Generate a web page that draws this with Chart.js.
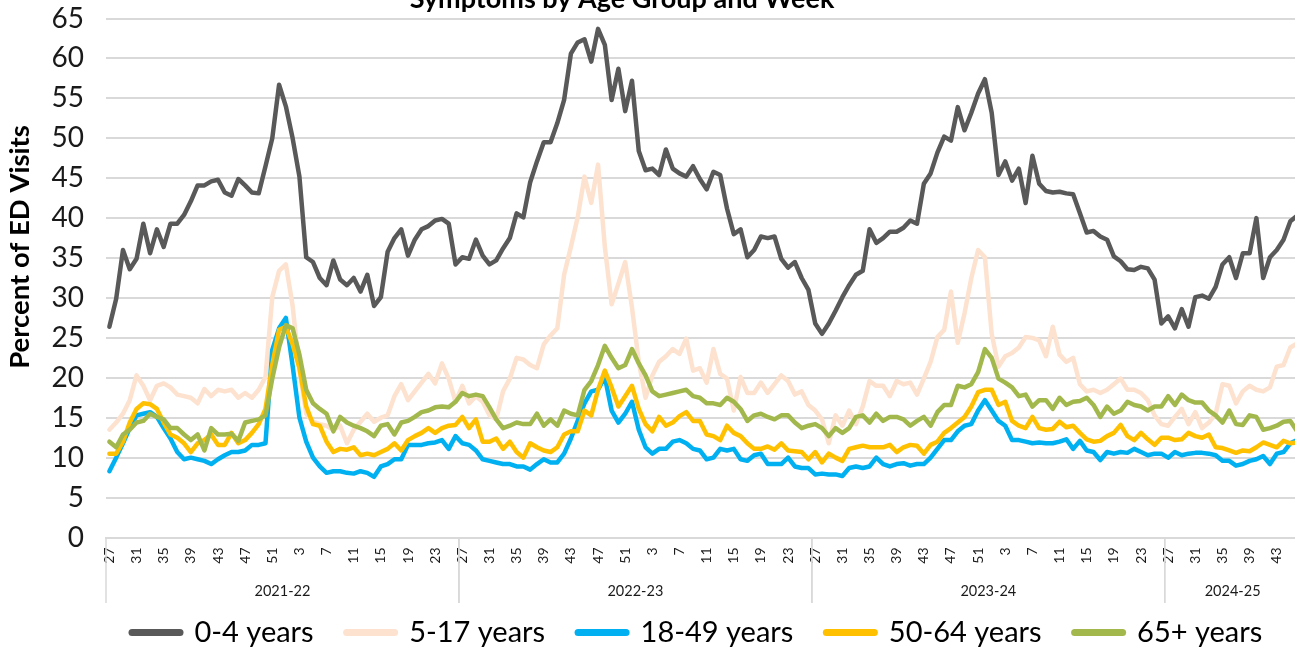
<!DOCTYPE html>
<html>
<head>
<meta charset="utf-8">
<script src="https://cdn.jsdelivr.net/npm/chart.js@4.4.1/dist/chart.umd.min.js"></script>
<style>
  html, body { margin: 0; padding: 0; background: #fff; overflow: hidden; }
  #wrap { position: relative; width: 1295px; height: 648px; overflow: hidden; }
  #chart { position: absolute; left: 0; top: 0; }
</style>
</head>
<body>
<div id="wrap"><canvas id="chart" width="1308" height="657"></canvas></div>
<script>
const chartTitle = 'Symptoms by Age Group and Week';
const yTitle = 'Percent of ED Visits';
const yMin = 0, yMax = 65, yStep = 5;

const seasons = ['2021-22', '2022-23', '2023-24', '2024-25'];
const weeks2122 = [27,28,29,30,31,32,33,34,35,36,37,38,39,40,41,42,43,44,45,46,47,48,49,50,51,52,1,2,3,4,5,6,7,8,9,10,11,12,13,14,15,16,17,18,19,20,21,22,23,24,25,26];
const weeks2223 = [27,28,29,30,31,32,33,34,35,36,37,38,39,40,41,42,43,44,45,46,47,48,49,50,51,52,1,2,3,4,5,6,7,8,9,10,11,12,13,14,15,16,17,18,19,20,21,22,23,24,25,26];
const weeks2324 = [27,28,29,30,31,32,33,34,35,36,37,38,39,40,41,42,43,44,45,46,47,48,49,50,51,52,1,2,3,4,5,6,7,8,9,10,11,12,13,14,15,16,17,18,19,20,21,22,23,24,25,26];
const weeks2425 = [27,28,29,30,31,32,33,34,35,36,37,38,39,40,41,42,43,44,45,46];
const seasonWeeks = [weeks2122, weeks2223, weeks2324, weeks2425];
const weekLabels = [...weeks2122, ...weeks2223, ...weeks2324, ...weeks2425];

const age0to4 = [
  26.4, 29.9, 36.0, 33.6, 34.9, 39.3, 35.6, 38.6, 36.4, 39.3,
  39.3, 40.4, 42.1, 44.1, 44.1, 44.6, 44.8, 43.2, 42.8, 44.9,
  44.1, 43.2, 43.1, 46.5, 50.0, 56.7, 54.0, 50.0, 45.2, 35.1,
  34.5, 32.5, 31.6, 34.7, 32.3, 31.6, 32.5, 30.8, 32.9, 29.0,
  30.1, 35.8, 37.5, 38.6, 35.3, 37.3, 38.6, 39.0, 39.7, 39.9,
  39.3, 34.2, 35.1, 34.9, 37.3, 35.3, 34.2, 34.7, 36.2, 37.5,
  40.6, 40.1, 44.5, 47.1, 49.5, 49.5, 51.9, 54.8, 60.6, 62.0,
  62.4, 59.6, 63.7, 61.7, 54.8, 58.7, 53.4, 57.2, 48.4, 46.0,
  46.2, 45.4, 48.6, 46.2, 45.6, 45.2, 46.5, 44.9, 43.6, 45.8,
  45.4, 41.2, 38.0, 38.6, 35.1, 36.0, 37.7, 37.5, 37.7, 34.9,
  33.8, 34.5, 32.5, 31.0, 26.8, 25.5, 26.8, 28.4, 30.1, 31.6,
  32.9, 33.4, 38.6, 36.9, 37.5, 38.3, 38.3, 38.8, 39.7, 39.3,
  44.3, 45.6, 48.2, 50.2, 49.7, 53.9, 51.0, 53.2, 55.6, 57.4,
  53.2, 45.4, 47.1, 44.7, 46.2, 41.9, 47.8, 44.3, 43.4, 43.2,
  43.3, 43.1, 43.0, 40.6, 38.2, 38.4, 37.7, 37.3, 35.2, 34.6,
  33.6, 33.5, 33.9, 33.7, 32.3, 26.8, 27.7, 26.2, 28.6, 26.4,
  30.1, 30.3, 29.9, 31.4, 34.2, 35.1, 32.5, 35.6, 35.6, 40.0,
  32.5, 35.1, 36.0, 37.3, 39.6, 40.3
];
const age5to17 = [
  13.5, 14.4, 15.5, 17.2, 20.3, 19.0, 17.2, 19.0, 19.3, 18.8,
  17.9, 17.7, 17.5, 16.8, 18.6, 17.7, 18.5, 18.3, 18.5, 17.5,
  18.1, 17.5, 18.5, 20.1, 30.1, 33.4, 34.2, 29.0, 21.0, 15.5,
  14.5, 14.2, 14.0, 13.5, 14.0, 11.8, 13.5, 14.5, 15.5, 14.5,
  15.0, 15.3, 17.7, 19.2, 17.2, 18.3, 19.4, 20.5, 19.3, 21.8,
  19.9, 17.0, 19.0, 16.8, 17.7, 17.0, 15.3, 14.8, 18.3, 19.9,
  22.5, 22.3, 21.6, 21.2, 24.2, 25.3, 26.2, 32.9, 36.4, 40.1,
  45.2, 41.9, 46.7, 36.4, 29.2, 31.8, 34.5, 28.8, 22.0, 17.5,
  20.3, 22.0, 22.7, 23.6, 23.0, 24.9, 20.9, 21.2, 19.4, 23.6,
  20.5, 19.9, 15.9, 20.1, 18.1, 18.1, 19.4, 18.1, 19.2, 20.3,
  19.6, 17.9, 18.3, 16.6, 15.9, 14.8, 11.8, 15.3, 14.0, 15.9,
  14.2, 16.4, 19.6, 19.0, 19.0, 17.7, 19.6, 19.2, 19.4, 17.9,
  19.9, 22.0, 25.1, 26.0, 30.8, 24.4, 28.1, 32.5, 36.0, 35.1,
  25.5, 21.4, 22.7, 23.1, 23.8, 25.1, 25.0, 24.7, 22.7, 26.4,
  22.9, 22.0, 22.5, 19.2, 18.3, 18.5, 18.1, 18.5, 19.2, 19.9,
  18.5, 18.5, 18.1, 17.2, 15.3, 14.2, 14.0, 15.1, 16.1, 14.2,
  15.7, 13.7, 14.4, 15.5, 19.2, 19.0, 16.8, 18.3, 19.0, 18.5,
  18.3, 18.8, 21.4, 21.6, 23.8, 24.3
];
const age18to49 = [
  8.3, 10.0, 11.8, 13.7, 15.3, 15.5, 15.7, 15.1, 13.7, 12.4,
  10.7, 9.8, 10.0, 9.8, 9.6, 9.2, 9.8, 10.3, 10.7, 10.7,
  10.9, 11.6, 11.6, 11.8, 23.5, 26.2, 27.5, 21.5, 15.0, 12.0,
  10.0, 8.9, 8.1, 8.3, 8.3, 8.1, 8.0, 8.3, 8.1, 7.6,
  8.9, 9.2, 9.8, 9.8, 11.6, 11.6, 11.6, 11.8, 11.9, 12.2,
  11.1, 12.7, 11.8, 11.6, 10.9, 9.8, 9.6, 9.4, 9.2, 9.2,
  8.9, 8.9, 8.5, 9.2, 9.8, 9.4, 9.4, 10.5, 12.4, 14.6,
  16.8, 18.3, 18.5, 20.1, 15.9, 14.4, 15.5, 17.0, 13.5, 11.3,
  10.5, 11.1, 11.1, 12.0, 12.2, 11.8, 11.1, 10.9, 9.8, 10.0,
  11.1, 10.9, 11.1, 9.8, 9.6, 10.3, 10.5, 9.2, 9.2, 9.2,
  10.0, 8.9, 8.7, 8.7, 7.9, 8.0, 7.9, 7.9, 7.7, 8.7,
  8.9, 8.7, 8.9, 10.0, 9.2, 8.9, 9.2, 9.3, 9.0, 9.2,
  9.2, 10.0, 11.1, 12.2, 12.2, 13.3, 14.0, 14.2, 15.9, 17.2,
  15.9, 14.6, 14.0, 12.2, 12.2, 12.0, 11.8, 11.9, 11.8, 11.8,
  12.0, 12.3, 11.1, 12.1, 10.9, 10.7, 9.7, 10.7, 10.5, 10.7,
  10.6, 11.1, 10.7, 10.3, 10.5, 10.5, 10.0, 10.7, 10.3, 10.5,
  10.6, 10.6, 10.5, 10.3, 9.6, 9.6, 9.0, 9.2, 9.6, 9.8,
  10.2, 9.2, 10.5, 10.7, 11.8, 12.2
];
const age50to64 = [
  10.5, 10.5, 12.0, 14.4, 16.1, 16.8, 16.7, 16.1, 14.4, 12.9,
  12.5, 11.8, 10.7, 11.8, 12.2, 12.9, 11.6, 11.6, 13.1, 11.8,
  12.2, 13.1, 14.2, 16.1, 21.6, 26.0, 26.4, 24.2, 21.2, 16.4,
  14.2, 14.0, 12.0, 10.7, 11.1, 11.0, 11.3, 10.3, 10.5, 10.3,
  10.7, 11.1, 11.8, 10.9, 12.2, 12.7, 13.1, 13.7, 13.1, 13.7,
  14.0, 14.1, 15.1, 13.7, 14.8, 12.0, 12.0, 12.4, 11.1, 12.0,
  10.7, 10.0, 11.8, 11.3, 10.9, 10.7, 11.3, 12.9, 13.3, 13.3,
  15.9, 15.3, 18.5, 20.9, 18.8, 16.4, 17.7, 19.0, 16.1, 14.2,
  13.3, 15.1, 14.0, 14.4, 15.2, 15.7, 14.6, 14.6, 12.9, 12.7,
  12.2, 14.0, 13.1, 12.7, 11.8, 11.1, 11.1, 11.4, 11.0, 11.8,
  10.9, 10.8, 10.7, 9.8, 10.7, 9.4, 10.5, 10.0, 9.6, 11.1,
  11.3, 11.5, 11.3, 11.3, 11.3, 11.6, 10.7, 11.3, 11.6, 11.5,
  10.5, 11.6, 12.0, 13.1, 13.7, 14.4, 15.1, 16.4, 18.2, 18.5,
  18.5, 16.6, 17.0, 14.6, 14.0, 13.7, 15.1, 13.7, 13.5, 13.6,
  14.5, 13.8, 14.0, 13.1, 12.3, 12.0, 12.1, 12.7, 13.1, 14.1,
  12.7, 12.2, 13.1, 12.3, 11.6, 12.5, 12.5, 12.2, 12.3, 13.1,
  12.7, 12.5, 12.9, 11.3, 11.2, 10.9, 10.6, 10.9, 10.8, 11.3,
  11.9, 11.6, 11.3, 12.1, 11.8, 11.9
];
const age65plus = [
  12.0, 11.3, 12.9, 13.5, 14.4, 14.6, 15.5, 15.1, 14.8, 13.7,
  13.7, 12.9, 12.2, 12.9, 10.9, 13.7, 12.9, 12.9, 13.0, 12.1,
  14.4, 14.6, 14.8, 15.3, 19.9, 23.8, 26.6, 26.2, 22.9, 18.5,
  16.8, 16.1, 15.5, 13.3, 15.1, 14.4, 14.0, 13.7, 13.3, 12.7,
  14.0, 14.2, 12.9, 14.4, 14.6, 15.1, 15.7, 15.9, 16.3, 16.4,
  16.3, 17.0, 18.1, 17.7, 17.9, 17.7, 16.3, 14.8, 13.7, 14.0,
  14.4, 14.2, 14.2, 15.5, 14.0, 14.8, 14.0, 15.9, 15.5, 15.3,
  18.5, 19.6, 21.6, 24.0, 22.5, 21.2, 21.6, 23.6, 21.8, 20.3,
  18.3, 17.7, 17.9, 18.1, 18.3, 18.5, 17.7, 17.5, 16.8, 16.8,
  16.6, 17.5, 17.0, 16.1, 14.6, 15.3, 15.5, 15.1, 14.8, 15.3,
  15.3, 14.4, 13.7, 14.0, 14.2, 13.7, 12.7, 13.7, 13.1, 13.7,
  15.1, 15.3, 14.4, 15.5, 14.6, 15.1, 15.1, 14.8, 14.0, 14.6,
  15.1, 14.0, 15.7, 16.6, 16.6, 19.0, 18.8, 19.2, 20.7, 23.6,
  22.5, 19.9, 19.4, 18.8, 17.7, 17.9, 16.4, 17.2, 17.2, 16.1,
  17.5, 16.6, 17.0, 17.1, 17.5, 16.6, 15.1, 16.4, 15.5, 15.9,
  17.0, 16.6, 16.4, 15.9, 16.4, 16.4, 17.7, 16.6, 17.9, 17.2,
  16.9, 16.9, 15.9, 15.3, 14.4, 15.9, 14.2, 14.1, 15.3, 15.1,
  13.5, 13.7, 14.0, 14.5, 14.6, 13.3
];

const seriesLabels = ['0-4 years', '5-17 years', '18-49 years', '50-64 years', '65+ years'];
const seriesData = [age0to4, age5to17, age18to49, age50to64, age65plus];
const seriesColors = ['#595959', '#fde2cf', '#00b0f0', '#ffc000', '#a2b84c'];

const FONT = 'Lato';
const TEXT = '#1a1a1a';
const GRID = '#d9d9d9';

// season group labels + divider lines under the week axis
const seasonAxis = {
  id: 'seasonAxis',
  afterDraw(chart) {
    const { ctx, chartArea } = chart;
    const x = chart.scales.x;
    const band = x.getPixelForValue(1) - x.getPixelForValue(0);
    ctx.save();
    ctx.strokeStyle = GRID;
    ctx.lineWidth = 1.5;
    ctx.fillStyle = TEXT;
    ctx.font = `14.5px ${FONT}`;
    ctx.textAlign = 'center';
    ctx.textBaseline = 'middle';
    let start = 0;
    seasons.forEach((s, k) => {
      const n = seasonWeeks[k].length;
      const x0 = x.getPixelForValue(start) - band / 2;
      const x1 = x.getPixelForValue(start + n - 1) + band / 2;
      [x0, x1].forEach(px => {
        ctx.beginPath();
        ctx.moveTo(px, chartArea.bottom);
        ctx.lineTo(px, 603);
        ctx.stroke();
      });
      ctx.fillText(s, (x0 + x1) / 2, 591);
      start += n;
    });
    ctx.restore();
  }
};

// chart title (partly cut off at the top) and rotated y-axis title
const titles = {
  id: 'titles',
  afterDraw(chart) {
    const { ctx } = chart;
    ctx.save();
    ctx.fillStyle = '#000';
    ctx.font = `bold 27px ${FONT}`;
    ctx.textAlign = 'center';
    ctx.textBaseline = 'alphabetic';
    ctx.fillText(chartTitle, 622, 8);
    ctx.translate(20, 247);
    ctx.rotate(-Math.PI / 2);
    ctx.font = `bold 27.5px ${FONT}`;
    ctx.textBaseline = 'middle';
    ctx.fillText(yTitle, 0, 0);
    ctx.restore();
  }
};

// move the legend so its first marker starts where the original does
const legendPlace = {
  id: 'legendPlace',
  afterLayout(chart) {
    const lg = chart.legend;
    const dx = (132 - lg.options.labels.padding) - lg.left;
    lg.left += dx;
    lg.right += dx;
  }
};

new Chart(document.getElementById('chart'), {
  type: 'line',
  data: {
    labels: weekLabels,
    datasets: seriesLabels.map((label, k) => ({
      label: label,
      data: seriesData[k],
      borderColor: seriesColors[k],
      backgroundColor: seriesColors[k],
      borderWidth: 4.5,
      pointRadius: 0,
      tension: 0,
      fill: false,
      borderJoinStyle: 'round',
      borderCapStyle: 'round',
      order: seriesLabels.length - k
    }))
  },
  options: {
    responsive: false,
    animation: false,
    layout: { padding: { top: 18.5, left: 0, right: 7.5, bottom: 0 } },
    plugins: {
      title: { display: false },
      tooltip: { enabled: false },
      legend: {
        position: 'bottom',
        align: 'start',
        labels: {
          usePointStyle: true,
          pointStyle: 'line',
          pointStyleWidth: 48,
          padding: 33,
          color: '#000',
          font: { family: FONT, size: 29 },
          sort: (a, b) => a.datasetIndex - b.datasetIndex,
          generateLabels: chart => Chart.defaults.plugins.legend.labels.generateLabels(chart)
            .map(item => Object.assign(item, { lineWidth: 7, lineCap: 'round', pointStyle: 'line' }))
        }
      }
    },
    scales: {
      x: {
        type: 'category',
        offset: true,
        grid: { display: false, drawTicks: false },
        border: { display: true, color: GRID, width: 2 },
        ticks: {
          autoSkip: false,
          minRotation: 90,
          maxRotation: 90,
          padding: 10,
          color: TEXT,
          font: { family: FONT, size: 14 },
          callback: (v, i) => (i % 4 === 0 ? String(weekLabels[i]) : '')
        },
        afterFit: scale => {
          const lgH = scale.chart.legend ? scale.chart.legend.height : 72;
          scale.height = scale.chart.height - lgH - 537.5;
          scale.paddingLeft = 0;
          scale.paddingRight = 0;
        }
      },
      y: {
        min: yMin,
        max: yMax,
        grid: { color: GRID, lineWidth: 2, drawTicks: false },
        border: { display: false },
        ticks: {
          stepSize: yStep,
          padding: 22,
          color: TEXT,
          font: { family: FONT, size: 28 }
        },
        afterFit: scale => {
          scale.width = 106;
          scale.paddingTop = 0;
          scale.paddingBottom = 0;
        }
      }
    }
  },
  plugins: [seasonAxis, titles, legendPlace]
});
</script>
</body>
</html>
